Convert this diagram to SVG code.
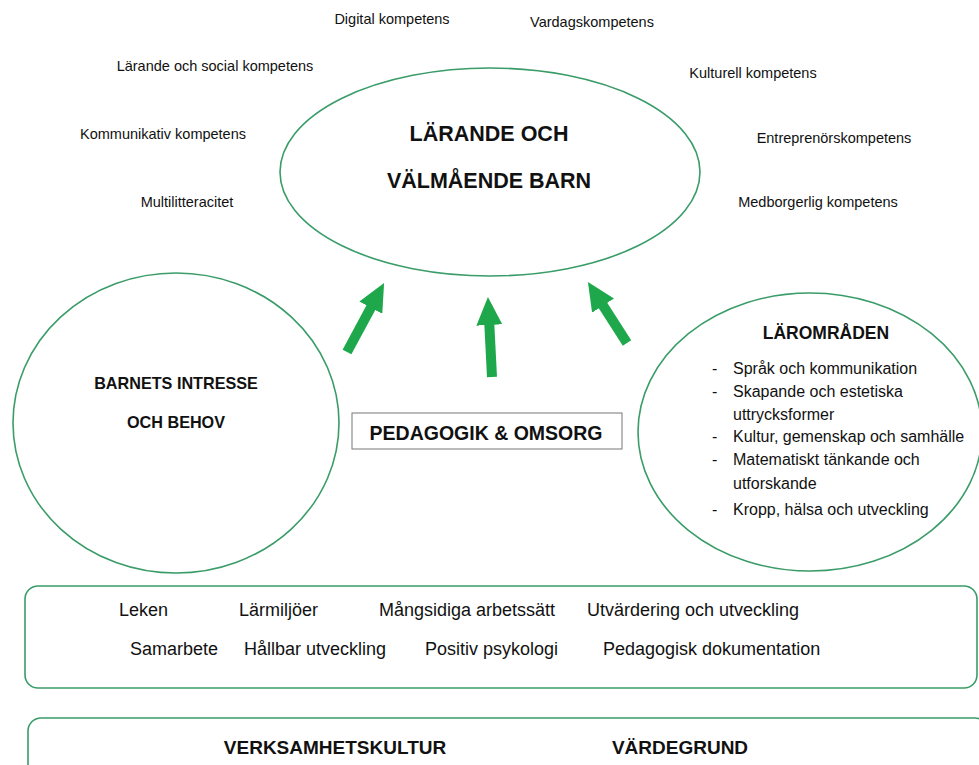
<svg xmlns="http://www.w3.org/2000/svg" width="979" height="765" viewBox="0 0 979 765">
<style>
.outline{fill:#fff;stroke:#3a9c68;stroke-width:1.6}
.t{font-family:"Liberation Sans",Arial,sans-serif;fill:#111}
.sm{font-size:14.5px}
.lg{font-size:18px}
.b{font-weight:bold}
.arrow{stroke:#1fa84b;stroke-width:10;fill:none}
</style>
<defs>
<marker id="head" viewBox="0 0 28 26" refX="1" refY="13" markerWidth="28" markerHeight="26" markerUnits="userSpaceOnUse" orient="auto">
<path d="M0,0 L28,13 L0,26 z" fill="#1fa84b"/>
</marker>
</defs>
<rect width="979" height="765" fill="#fff"/>

<g id="competences" class="t sm" text-anchor="middle">
<text x="392" y="24">Digital kompetens</text>
<text x="592" y="27">Vardagskompetens</text>
<text x="215" y="71">Lärande och social kompetens</text>
<text x="753" y="78">Kulturell kompetens</text>
<text x="163" y="139">Kommunikativ kompetens</text>
<text x="834" y="143">Entreprenörskompetens</text>
<text x="187" y="207">Multilitteracitet</text>
<text x="818" y="207">Medborgerlig kompetens</text>
</g>

<g id="center-node">
<ellipse class="outline" cx="490" cy="172" rx="210" ry="104"/>
<text class="t b" font-size="21.5" x="489" y="141" text-anchor="middle">LÄRANDE OCH</text>
<text class="t b" font-size="21.5" x="489" y="188" text-anchor="middle">VÄLMÅENDE BARN</text>
</g>

<g id="barnets-node">
<ellipse class="outline" cx="176" cy="423" rx="163" ry="150"/>
<text class="t b" font-size="16.2" x="176" y="389" text-anchor="middle">BARNETS INTRESSE</text>
<text class="t b" font-size="16.2" x="176" y="428" text-anchor="middle">OCH BEHOV</text>
</g>

<g id="pedagogik-node">
<rect x="352" y="413" width="270" height="36" fill="#fff" stroke="#777" stroke-width="1"/>
<text class="t b" font-size="19.5" x="486" y="440" text-anchor="middle">PEDAGOGIK &amp; OMSORG</text>
</g>

<g id="laromraden-node">
<ellipse class="outline" cx="810" cy="432" rx="172" ry="139"/>
<text class="t b" font-size="17.5" x="826" y="339" text-anchor="middle">LÄROMRÅDEN</text>
<g class="t" font-size="16">
<text x="712" y="374">-</text><text x="733" y="374">Språk och kommunikation</text>
<text x="712" y="397">-</text><text x="733" y="397">Skapande och estetiska</text>
<text x="733" y="420">uttrycksformer</text>
<text x="712" y="442">-</text><text x="733" y="442">Kultur, gemenskap och samhälle</text>
<text x="712" y="465">-</text><text x="733" y="465">Matematiskt tänkande och</text>
<text x="733" y="489">utforskande</text>
<text x="712" y="515">-</text><text x="733" y="515">Kropp, hälsa och utveckling</text>
</g>
</g>

<g id="connectors">
<line class="arrow" x1="347" y1="352" x2="371.3" y2="306.8" marker-end="url(#head)"/>
<line class="arrow" x1="492" y1="377" x2="489.3" y2="324" marker-end="url(#head)"/>
<line class="arrow" x1="627" y1="343" x2="602.5" y2="304.8" marker-end="url(#head)"/>
</g>

<g id="methods-node">
<rect class="outline" x="25" y="586" width="952" height="102" rx="13"/>
<g class="t lg">
<text x="119" y="616">Leken</text>
<text x="239" y="616">Lärmiljöer</text>
<text x="379" y="616">Mångsidiga arbetssätt</text>
<text x="587" y="616">Utvärdering och utveckling</text>
<text x="130" y="655">Samarbete</text>
<text x="244" y="655">Hållbar utveckling</text>
<text x="425" y="655">Positiv psykologi</text>
<text x="603" y="655">Pedagogisk dokumentation</text>
</g>
</g>

<g id="foundation-node">
<rect class="outline" x="28" y="718" width="960" height="70" rx="13"/>
<text class="t b" font-size="19" x="335" y="754" text-anchor="middle">VERKSAMHETSKULTUR</text>
<text class="t b" font-size="19" x="680" y="754" text-anchor="middle">VÄRDEGRUND</text>
</g>
</svg>
